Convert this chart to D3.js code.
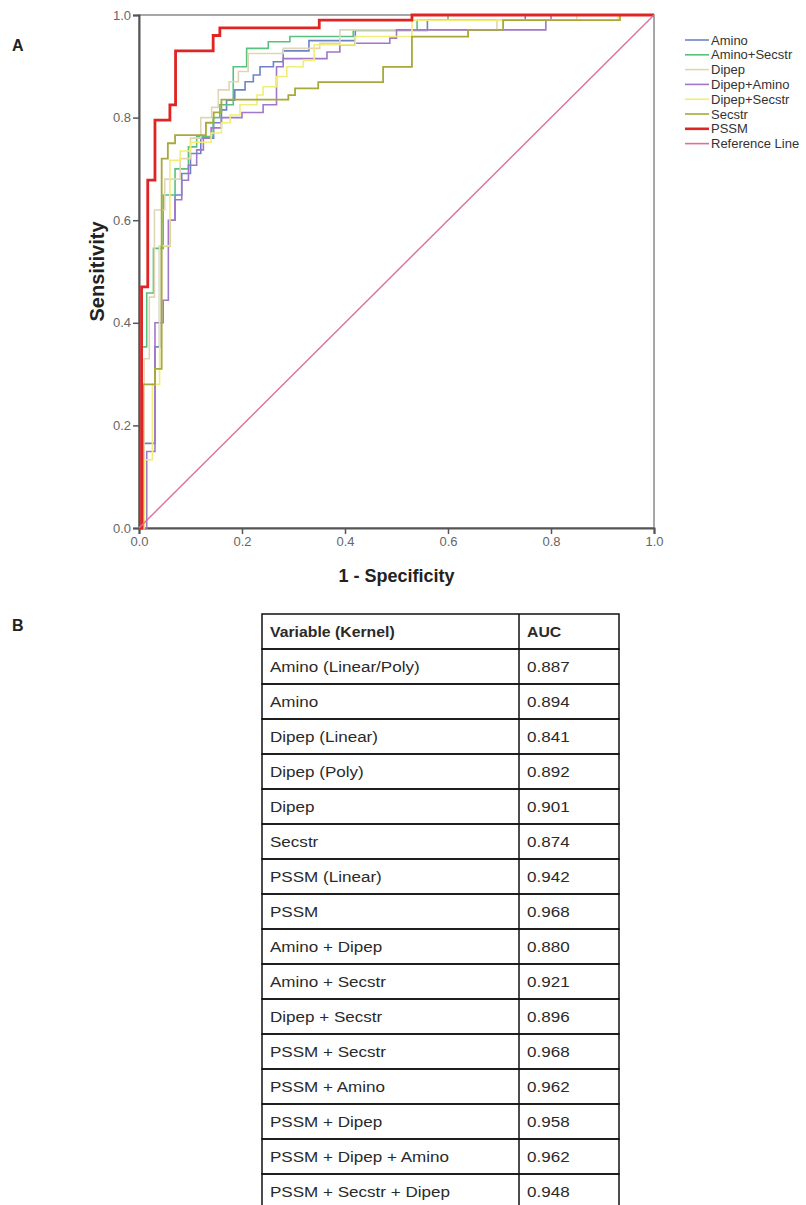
<!DOCTYPE html>
<html>
<head>
<meta charset="utf-8">
<script src="https://cdn.jsdelivr.net/npm/d3@7"></script>
<style>
  body { margin: 0; background: #ffffff; }
  svg { display: block; font-family: "Liberation Sans", Arial, sans-serif; }
</style>
</head>
<body>
<svg id="chart" width="806" height="1205"></svg>
<script>
// ROC points [1 - specificity, sensitivity]
const aminoRoc = [[0,0],[0.005,0],[0.005,0.165],[0.031,0.165],[0.031,0.353],[0.04,0.353],[0.04,0.55],[0.06,0.55],[0.06,0.6],[0.07,0.6],[0.07,0.649],[0.083,0.649],[0.083,0.691],[0.1,0.691],[0.1,0.73],[0.12,0.73],[0.12,0.76],[0.145,0.76],[0.145,0.79],[0.16,0.79],[0.16,0.815],[0.17,0.815],[0.17,0.834],[0.186,0.834],[0.186,0.854],[0.206,0.854],[0.206,0.87],[0.222,0.87],[0.222,0.883],[0.235,0.883],[0.235,0.899],[0.261,0.899],[0.261,0.909],[0.28,0.909],[0.28,0.93],[0.33,0.93],[0.33,0.95],[0.42,0.95],[0.42,0.97],[0.56,0.97],[0.56,0.99],[0.75,0.99],[0.75,1],[1,1]];
const aminoSecstrRoc = [[0,0],[0.005,0],[0.005,0.353],[0.015,0.353],[0.015,0.458],[0.028,0.458],[0.028,0.545],[0.047,0.545],[0.047,0.649],[0.07,0.649],[0.07,0.7],[0.096,0.7],[0.096,0.743],[0.112,0.743],[0.112,0.763],[0.144,0.763],[0.144,0.8],[0.157,0.8],[0.157,0.825],[0.183,0.825],[0.183,0.899],[0.209,0.899],[0.209,0.935],[0.251,0.935],[0.251,0.948],[0.293,0.948],[0.293,0.958],[0.416,0.958],[0.416,0.971],[0.54,0.971],[0.54,0.99],[0.6,0.99],[0.6,1],[1,1]];
const dipepRoc = [[0,0],[0.01,0],[0.01,0.33],[0.02,0.33],[0.02,0.45],[0.03,0.45],[0.03,0.62],[0.05,0.62],[0.05,0.68],[0.08,0.68],[0.08,0.72],[0.1,0.72],[0.1,0.76],[0.12,0.76],[0.12,0.8],[0.141,0.8],[0.141,0.82],[0.154,0.82],[0.154,0.854],[0.175,0.854],[0.175,0.87],[0.193,0.87],[0.193,0.89],[0.212,0.89],[0.212,0.925],[0.28,0.925],[0.28,0.935],[0.351,0.935],[0.351,0.945],[0.39,0.945],[0.39,0.971],[0.695,0.971],[0.695,0.99],[0.85,0.99],[0.85,1],[1,1]];
const dipepAminoRoc = [[0,0],[0.015,0],[0.015,0.149],[0.031,0.149],[0.031,0.4],[0.047,0.4],[0.047,0.444],[0.057,0.444],[0.057,0.6],[0.07,0.6],[0.07,0.64],[0.083,0.64],[0.083,0.678],[0.096,0.678],[0.096,0.707],[0.112,0.707],[0.112,0.737],[0.125,0.737],[0.125,0.76],[0.14,0.76],[0.14,0.78],[0.16,0.78],[0.16,0.8],[0.2,0.8],[0.2,0.81],[0.241,0.81],[0.241,0.825],[0.267,0.825],[0.267,0.899],[0.28,0.899],[0.28,0.915],[0.365,0.915],[0.365,0.928],[0.39,0.928],[0.39,0.942],[0.419,0.942],[0.419,0.945],[0.487,0.945],[0.487,0.955],[0.5,0.955],[0.5,0.971],[0.79,0.971],[0.79,0.99],[0.8,0.99],[0.8,1],[1,1]];
const dipepSecstrRoc = [[0,0],[0.01,0],[0.01,0.133],[0.026,0.133],[0.026,0.28],[0.04,0.28],[0.04,0.55],[0.06,0.55],[0.06,0.717],[0.08,0.717],[0.08,0.735],[0.1,0.735],[0.1,0.752],[0.14,0.752],[0.14,0.77],[0.16,0.77],[0.16,0.79],[0.177,0.79],[0.177,0.805],[0.196,0.805],[0.196,0.825],[0.229,0.825],[0.229,0.844],[0.241,0.844],[0.241,0.86],[0.267,0.86],[0.267,0.88],[0.287,0.88],[0.287,0.899],[0.319,0.899],[0.319,0.912],[0.34,0.912],[0.34,0.942],[0.42,0.942],[0.42,0.958],[0.53,0.958],[0.53,0.99],[0.93,0.99],[0.93,1],[1,1]];
const secstrRoc = [[0,0],[0.008,0],[0.008,0.28],[0.031,0.28],[0.031,0.31],[0.044,0.31],[0.044,0.72],[0.056,0.72],[0.056,0.75],[0.07,0.75],[0.07,0.766],[0.13,0.766],[0.13,0.79],[0.145,0.79],[0.145,0.81],[0.16,0.81],[0.16,0.835],[0.29,0.835],[0.29,0.844],[0.303,0.844],[0.303,0.857],[0.348,0.857],[0.348,0.869],[0.474,0.869],[0.474,0.899],[0.53,0.899],[0.53,0.958],[0.639,0.958],[0.639,0.971],[0.707,0.971],[0.707,0.99],[0.934,0.99],[0.934,1],[1,1]];
const pssmRoc = [[0,0],[0.005,0],[0.005,0.47],[0.017,0.47],[0.017,0.678],[0.031,0.678],[0.031,0.795],[0.06,0.795],[0.06,0.825],[0.071,0.825],[0.071,0.93],[0.144,0.93],[0.144,0.96],[0.157,0.96],[0.157,0.975],[0.35,0.975],[0.35,0.99],[0.53,0.99],[0.53,1],[1,1]];
const referenceRoc = [[0,0],[1,1]];

const seriesNames = ["Amino", "Amino+Secstr", "Dipep", "Dipep+Amino", "Dipep+Secstr", "Secstr", "PSSM", "Reference Line"];
const seriesData = [aminoRoc, aminoSecstrRoc, dipepRoc, dipepAminoRoc, dipepSecstrRoc, secstrRoc, pssmRoc, referenceRoc];
const axisTicks = [0, 0.2, 0.4, 0.6, 0.8, 1.0];

// Table B
const tableHeader = ["Variable (Kernel)", "AUC"];
const tableVariables = ["Amino (Linear/Poly)", "Amino", "Dipep (Linear)", "Dipep (Poly)", "Dipep", "Secstr", "PSSM (Linear)", "PSSM", "Amino + Dipep", "Amino + Secstr", "Dipep + Secstr", "PSSM + Secstr", "PSSM + Amino", "PSSM + Dipep", "PSSM + Dipep + Amino", "PSSM + Secstr + Dipep"];
const tableAuc = ["0.887", "0.894", "0.841", "0.892", "0.901", "0.874", "0.942", "0.968", "0.880", "0.921", "0.896", "0.968", "0.962", "0.958", "0.962", "0.948"];

const svg = d3.select("#chart");

// Colors
const seriesColors = ["#6f82c8", "#58c27c", "#e0d6b4", "#a276c8", "#f1ee78", "#a9a83a", "#e02424", "#d9719c"];
const seriesWidths = [1.6, 1.6, 1.6, 1.6, 1.6, 1.8, 2.8, 1.4];

// ROC plot
const drawRocPlot = () => {
    const left = 139, right = 654, top = 15, bottom = 528;
    const x = d3.scaleLinear().domain([0, 1]).range([left, right]);
    const y = d3.scaleLinear().domain([0, 1]).range([bottom, top]);

    // frame
    svg.append("rect")
        .attr("x", left).attr("y", top)
        .attr("width", right - left).attr("height", bottom - top)
        .attr("fill", "none").attr("stroke", "#8a8a8a").attr("stroke-width", 1.5);

    const xAxis = svg.append("g")
        .attr("transform", `translate(0,${bottom})`)
        .call(d3.axisBottom(x).tickValues(axisTicks).tickFormat(d3.format(".1f")).tickSize(6).tickPadding(3));
    const yAxis = svg.append("g")
        .attr("transform", `translate(${left},0)`)
        .call(d3.axisLeft(y).tickValues(axisTicks).tickFormat(d3.format(".1f")).tickSize(6).tickPadding(2));

    [xAxis, yAxis].forEach(g => {
        g.select(".domain").attr("stroke", "#555").attr("stroke-width", 2);
        g.selectAll(".tick line").attr("stroke", "#555").attr("stroke-width", 1.5);
        g.selectAll(".tick text")
            .attr("fill", "#666")
            .style("font-size", "13px")
            .style("font-family", "'Liberation Sans', Arial, sans-serif");
    });

    // curves
    const line = d3.line().x(d => x(d[0])).y(d => y(d[1]));
    seriesData.forEach((pts, i) => {
        svg.append("path")
            .datum(pts)
            .attr("d", line)
            .attr("fill", "none")
            .attr("stroke", seriesColors[i])
            .attr("stroke-width", seriesWidths[i]);
    });

    // axis titles
    svg.append("text")
        .attr("x", (left + right) / 2).attr("y", 582)
        .attr("text-anchor", "middle")
        .style("font-size", "18px").style("font-weight", "bold")
        .attr("fill", "#222")
        .text("1 - Specificity");
    svg.append("text")
        .attr("transform", `translate(104,${(top + bottom) / 2}) rotate(-90)`)
        .attr("text-anchor", "middle")
        .style("font-size", "20px").style("font-weight", "bold")
        .attr("fill", "#222")
        .text("Sensitivity");

    // legend
    const legend = svg.append("g");
    seriesNames.forEach((name, i) => {
        const ly = 40 + i * 14.8;
        legend.append("line")
            .attr("x1", 685).attr("x2", 709).attr("y1", ly).attr("y2", ly)
            .attr("stroke", seriesColors[i])
            .attr("stroke-width", i === 6 ? 2.6 : 1.6);
        legend.append("text")
            .attr("x", 711).attr("y", ly).attr("dy", "0.35em")
            .style("font-size", "13px")
            .attr("fill", "#333")
            .text(name);
    });
};

// AUC table
const drawTable = () => {
    const tLeft = 262, tMid = 519, tRight = 619, tTop = 614, rowH = 35;
    const rows = [tableHeader].concat(tableVariables.map((v, i) => [v, tableAuc[i]]));
    const rowY = d3.scaleLinear().domain([0, 1]).range([tTop, tTop + rowH]);

    const g = svg.append("g");
    rows.forEach((r, i) => {
        const y0 = rowY(i);
        g.append("rect")
            .attr("x", tLeft).attr("y", y0)
            .attr("width", tRight - tLeft).attr("height", rowH)
            .attr("fill", "none").attr("stroke", "#111").attr("stroke-width", 1.5);
        g.append("line")
            .attr("x1", tMid).attr("x2", tMid).attr("y1", y0).attr("y2", y0 + rowH)
            .attr("stroke", "#111").attr("stroke-width", 1.5);
        [tLeft + 8, tMid + 8].forEach((tx, j) => {
            g.append("text")
                .attr("transform", `translate(${tx},${y0 + rowH / 2}) scale(${i === 0 ? 1.02 : 1.1},1)`)
                .attr("dy", "0.36em")
                .style("font-size", "15.5px")
                .style("font-weight", i === 0 ? "bold" : "normal")
                .attr("fill", "#2a2a2a")
                .text(r[j]);
        });
    });
};

// panel labels
svg.append("text").attr("x", 12).attr("y", 51)
    .style("font-size", "16px").style("font-weight", "bold").attr("fill", "#222").text("A");
svg.append("text").attr("x", 12).attr("y", 631)
    .style("font-size", "16px").style("font-weight", "bold").attr("fill", "#222").text("B");

drawRocPlot();
drawTable();
</script>
</body>
</html>
